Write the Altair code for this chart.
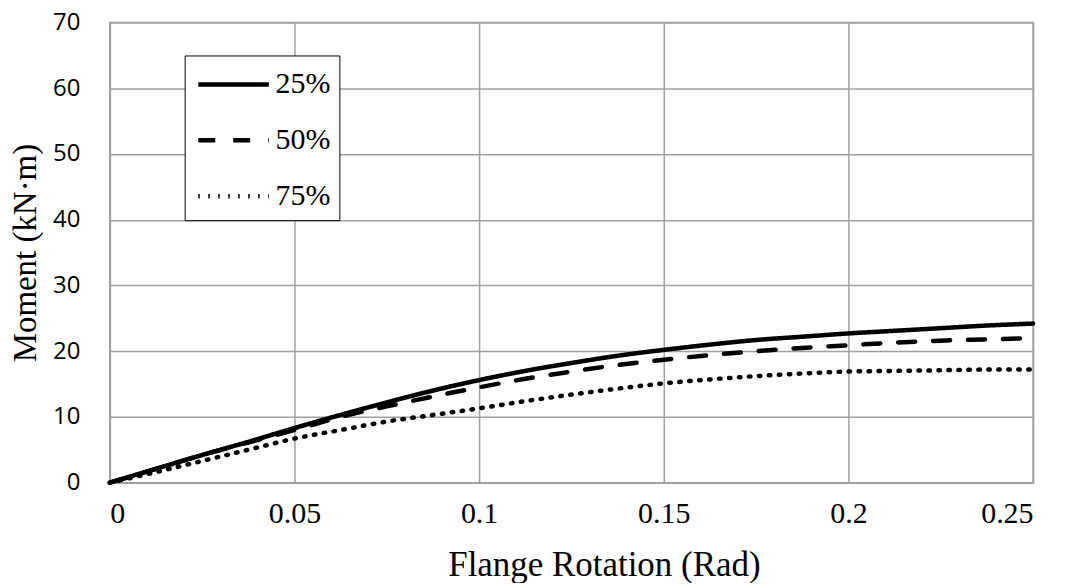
import altair as alt
import pandas as pd

rotation = [0, 0.0125, 0.025, 0.0375, 0.05, 0.0625, 0.075, 0.0875, 0.1, 0.1125, 0.125,
            0.1375, 0.15, 0.1625, 0.175, 0.1875, 0.2, 0.2125, 0.225, 0.2375, 0.25]
m25 = [0, 2.1, 4.2, 6.2, 8.3, 10.3, 12.2, 14.0, 15.6, 17.0, 18.2, 19.3, 20.2, 21.0, 21.7,
       22.2, 22.7, 23.1, 23.5, 23.9, 24.2]
m50 = [0, 2.1, 4.2, 6.1, 8.0, 10.0, 11.6, 13.1, 14.5, 15.8, 16.9, 17.9, 18.7, 19.4, 20.0,
       20.5, 20.9, 21.3, 21.6, 21.8, 22.0]
m75 = [0, 1.6, 3.3, 5.0, 6.7, 8.0, 9.3, 10.3, 11.3, 12.4, 13.4, 14.3, 15.1, 15.7, 16.2,
       16.6, 16.9, 17.0, 17.1, 17.2, 17.2]
series = ["25%", "50%", "75%"]

rows = []
for name, vals in zip(series, [m25, m50, m75]):
    for x, y in zip(rotation, vals):
        rows.append({"rot": x, "moment": y, "series": name})
df = pd.DataFrame(rows)

chart = alt.Chart(df).mark_line(color="black", strokeWidth=4.5, strokeCap="round",
                                interpolate="monotone").encode(
    x=alt.X("rot:Q", title="Flange Rotation (Rad)",
            scale=alt.Scale(domain=[0, 0.25], nice=False),
            axis=alt.Axis(values=[0, 0.05, 0.1, 0.15, 0.2, 0.25], format="~g",
                          labelFont="Liberation Serif", labelFontSize=30,
                          labelPadding=16, titlePadding=19, titleFontSize=35,
                          titleX=495, titleAlign="center")),
    y=alt.Y("moment:Q", title="Moment (kN·m)",
            scale=alt.Scale(domain=[0, 70], nice=False),
            axis=alt.Axis(values=[0, 10, 20, 30, 40, 50, 60, 70],
                          labelFont="Open Sans", labelFontSize=24,
                          labelPadding=30, titlePadding=10, titleFontSize=33)),
    strokeDash=alt.StrokeDash("series:N",
        scale=alt.Scale(domain=series, range=[[1, 0], [17, 18], [1.5, 8.5]]),
        legend=alt.Legend(title=None, orient="none", legendX=75, legendY=33,
                          symbolType="M-2,0H2", symbolSize=1250, symbolStrokeWidth=4.5,
                          symbolStrokeColor="black", symbolOffset=20,
                          labelFont="Liberation Serif", labelFontSize=30, labelColor="black",
                          strokeColor="black", fillColor="white", padding=9,
                          rowPadding=21, labelOffset=22)),
).properties(
    width=925, height=461,
    autosize=alt.AutoSizeParams(type="none"),
    padding={"left": 102, "top": 14, "right": 30, "bottom": 100},
).configure_axis(
    grid=True, gridColor="#a0a0a0", gridWidth=1.5,
    domainColor="#a0a0a0", domainWidth=1.5, ticks=False,
    labelColor="black",
    titleFont="Liberation Serif", titleFontWeight="normal", titleColor="black",
).configure_view(stroke="#a0a0a0", strokeWidth=1.5)

chart.save("out.html", embed_options={"renderer": "svg", "actions": False})
